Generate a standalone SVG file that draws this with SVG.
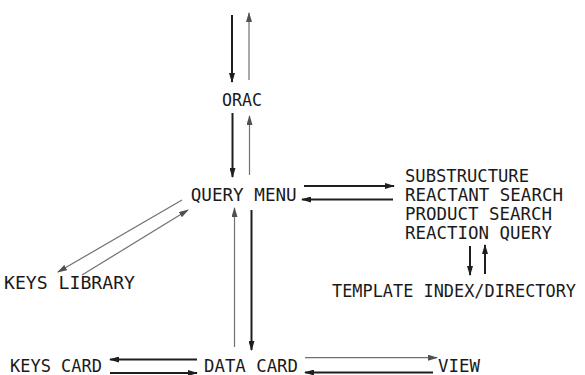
<svg xmlns="http://www.w3.org/2000/svg" width="585" height="375" viewBox="0 0 585 375">
  <defs>
    <style>
      text { font-family: "DejaVu Sans Mono", "Liberation Mono", monospace; font-size: 18px; fill: #1a1a1a; }
      text.sm { font-size: 17px; }
      .dk { stroke: #1e1e1e; stroke-width: 2; fill: none; marker-end: url(#hd); }
      .lt { stroke: #707070; stroke-width: 1.2; fill: none; marker-end: url(#hl); }
    </style>
    <marker id="hd" markerUnits="userSpaceOnUse" markerWidth="10" markerHeight="6" refX="9" refY="3" orient="auto">
      <path d="M0,0 L10,3 L0,6 z" fill="#1e1e1e"/>
    </marker>
    <marker id="hl" markerUnits="userSpaceOnUse" markerWidth="10" markerHeight="6" refX="9" refY="3" orient="auto">
      <path d="M0,0 L10,3 L0,6 z" fill="#505050"/>
    </marker>
  </defs>
  <rect width="585" height="375" fill="#ffffff"/>

  <g id="connectors">
    <!-- above ORAC -->
    <line class="dk" x1="232" y1="15" x2="232" y2="82"/>
    <line class="lt" x1="249" y1="80" x2="249" y2="13"/>
    <!-- ORAC / QUERY MENU -->
    <line class="dk" x1="232.5" y1="113" x2="232.5" y2="177"/>
    <line class="lt" x1="249.5" y1="175" x2="249.5" y2="116"/>
    <!-- QUERY MENU / search list -->
    <line class="dk" x1="304" y1="186" x2="394" y2="186"/>
    <line class="dk" x1="393" y1="199.5" x2="302" y2="199.5"/>
    <!-- search list / TEMPLATE INDEX -->
    <line class="dk" x1="470" y1="246" x2="470" y2="275"/>
    <line class="dk" x1="485" y1="274" x2="485" y2="245"/>
    <!-- QUERY MENU / KEYS LIBRARY -->
    <line class="lt" x1="182" y1="200" x2="58" y2="272"/>
    <line class="lt" x1="82" y1="275" x2="188" y2="210"/>
    <!-- QUERY MENU / DATA CARD -->
    <line class="lt" x1="234.5" y1="347" x2="234.5" y2="208"/>
    <line class="dk" x1="251.5" y1="210" x2="251.5" y2="350"/>
    <!-- DATA CARD / KEYS CARD -->
    <line class="dk" x1="197" y1="359.5" x2="110" y2="359.5"/>
    <line class="dk" x1="110" y1="373" x2="197" y2="373"/>
    <!-- DATA CARD / VIEW -->
    <line class="lt" x1="305" y1="357.7" x2="437" y2="357.7"/>
    <line class="dk" x1="433" y1="372.5" x2="305" y2="372.5"/>
  </g>

  <g id="orac"><text x="222" y="106" textLength="40" lengthAdjust="spacingAndGlyphs">ORAC</text></g>
  <g id="query-menu"><text x="190.7" y="200.5" textLength="106" lengthAdjust="spacingAndGlyphs">QUERY MENU</text></g>
  <g id="search-list">
    <text x="405" y="181.5" textLength="124" lengthAdjust="spacingAndGlyphs">SUBSTRUCTURE</text>
    <text x="405" y="200.5" textLength="158" lengthAdjust="spacingAndGlyphs">REACTANT SEARCH</text>
    <text x="405" y="219.5" textLength="147" lengthAdjust="spacingAndGlyphs">PRODUCT SEARCH</text>
    <text x="405" y="238.5" textLength="147" lengthAdjust="spacingAndGlyphs">REACTION QUERY</text>
  </g>
  <g id="template-index"><text class="sm" x="332" y="296.5" textLength="244" lengthAdjust="spacingAndGlyphs">TEMPLATE INDEX/DIRECTORY</text></g>
  <g id="keys-library"><text x="4" y="289" textLength="131" lengthAdjust="spacingAndGlyphs">KEYS LIBRARY</text></g>
  <g id="keys-card"><text x="10" y="372" textLength="92" lengthAdjust="spacingAndGlyphs">KEYS CARD</text></g>
  <g id="data-card"><text x="204" y="372" textLength="94" lengthAdjust="spacingAndGlyphs">DATA CARD</text></g>
  <g id="view"><text x="438" y="372" textLength="42" lengthAdjust="spacingAndGlyphs">VIEW</text></g>
</svg>
